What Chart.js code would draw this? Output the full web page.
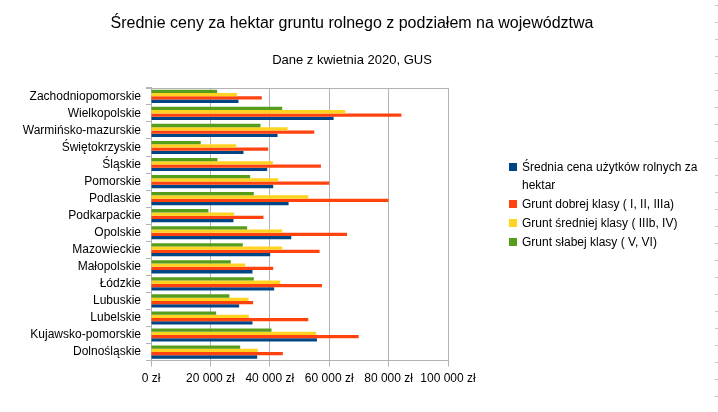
<!DOCTYPE html>
<html>
<head>
<meta charset="utf-8">
<script src="https://cdn.jsdelivr.net/npm/chart.js@4/dist/chart.umd.min.js"></script>
<style>
  html, body { margin: 0; padding: 0; background: #fff; }
  #wrap { position: relative; width: 718px; height: 412px; font-family: "Liberation Sans", Arial, sans-serif; }
  #box { position: absolute; left: 0; top: 0; width: 704px; height: 412px; }
  #legend { position: absolute; left: 509px; top: 158px; width: 200px; font-size: 12px; color: #000; }
  .item { display: flex; align-items: flex-start; line-height: 18px; margin-bottom: 1px; }
  .sw { width: 8px; height: 8px; margin-top: 5px; margin-right: 5px; flex: none; }
  .txt { width: 186px; }
  #edge { position: absolute; left: 715px; top: 0; width: 3px; height: 412px;
          background: repeating-linear-gradient(to bottom, transparent 0px, transparent 5px, #c8c8c8 5px, #c8c8c8 6px, transparent 6px, transparent 17px); }
</style>
</head>
<body>
<div id="wrap">
  <div id="box"><canvas id="c"></canvas></div>
  <div id="legend"></div>
  <div id="edge"></div>
</div>
<script>
const categories = ["Zachodniopomorskie","Wielkopolskie","Warmińsko-mazurskie","Świętokrzyskie","Śląskie","Pomorskie","Podlaskie","Podkarpackie","Opolskie","Mazowieckie","Małopolskie","Łódzkie","Lubuskie","Lubelskie","Kujawsko-pomorskie","Dolnośląskie"];
const sredniaCena = [29450,61490,42610,31140,39120,41150,46320,27770,47220,40140,34170,41490,29680,34170,55870,35750];
const gruntDobry = [37310,84320,54970,39460,57220,60030,79940,37880,65990,56770,41150,57560,34400,52950,69920,44390];
const gruntSredni = [29000,65430,45980,28670,41030,42830,52950,27990,44180,44180,31710,43510,32820,32930,55650,35960];
const gruntSlaby = [22260,44180,36870,16740,22370,33390,34620,19340,32380,30910,26860,34620,26410,21920,40580,30020];
const xTicks = [0,20000,40000,60000,80000,100000];
const seriesNames = ["Średnia cena użytków rolnych za hektar","Grunt dobrej klasy ( I, II, IIIa)","Grunt średniej klasy ( IIIb, IV)","Grunt słabej klasy ( V, VI)"];
const colors = ["#004586","#ff420e","#ffd320","#579d1c"];
const titleText = "Średnie ceny za hektar gruntu rolnego z podziałem na województwa";
const subtitleText = "Dane z kwietnia 2020, GUS";

const FONT = "'Liberation Sans', Arial, sans-serif";
const GRID = "#b3b3b3";

function fmt(v) {
  return String(v).replace(/\B(?=(\d{3})+(?!\d))/g, " ") + " zł";
}

const seriesData = [sredniaCena, gruntDobry, gruntSredni, gruntSlaby];
// draw order: green at top of each group, blue at bottom
const order = [3, 2, 1, 0];
const datasets = order.map(i => ({
  label: seriesNames[i],
  data: seriesData[i],
  backgroundColor: colors[i],
  borderWidth: 0,
  categoryPercentage: 0.77,
  barPercentage: 1.0
}));

const topLine = {
  id: 'topLine',
  beforeDatasetsDraw(chart) {
    const a = chart.chartArea, ctx = chart.ctx;
    ctx.save();
    ctx.strokeStyle = GRID;
    ctx.lineWidth = 1;
    ctx.beginPath();
    ctx.moveTo(a.left - 5, Math.round(a.top) + 0.5);
    ctx.lineTo(a.right, Math.round(a.top) + 0.5);
    ctx.stroke();
    ctx.restore();
  }
};

new Chart(document.getElementById('c'), {
  type: 'bar',
  data: { labels: categories, datasets },
  plugins: [topLine],
  options: {
    indexAxis: 'y',
    responsive: true,
    maintainAspectRatio: false,
    animation: false,
    layout: { padding: { left: 0, right: 0, top: 0, bottom: 21 } },
    plugins: {
      legend: { display: false },
      tooltip: { enabled: false },
      title: {
        display: true, text: titleText, color: '#000',
        font: { family: FONT, size: 16, weight: 'normal' },
        padding: { top: 14, bottom: 0 }
      },
      subtitle: {
        display: true, text: subtitleText, color: '#000',
        font: { family: FONT, size: 13, weight: 'normal' },
        padding: { top: 19, bottom: 20 }
      }
    },
    scales: {
      x: {
        type: 'linear', min: 0, max: 100000,
        afterBuildTicks(s) { s.ticks = xTicks.map(v => ({ value: v })); },
        ticks: { color: '#000', font: { family: FONT, size: 12 }, padding: 5, callback: v => fmt(v), maxRotation: 0 },
        grid: { color: GRID, tickColor: GRID, tickLength: 6, lineWidth: 1 },
        border: { color: GRID }
      },
      y: {
        type: 'category',
        offset: true,
        afterFit(s) { s.width = 151; },
        ticks: { color: '#000', font: { family: FONT, size: 12 }, padding: 5, autoSkip: false },
        grid: { offset: true, drawOnChartArea: false, color: GRID, tickColor: GRID, tickLength: 5 },
        border: { color: GRID }
      },
      yRight: {
        type: 'category', position: 'right', labels: [''],
        afterFit(s) { s.width = 256; },
        ticks: { display: false },
        grid: { display: false, drawTicks: false },
        border: { display: false }
      }
    }
  }
});

// HTML legend (allows wrapped text like the reference)
const leg = document.getElementById('legend');
seriesNames.forEach((n, i) => {
  const d = document.createElement('div');
  d.className = 'item';
  d.innerHTML = '<span class="sw" style="background:' + colors[i] + '"></span><span class="txt"></span>';
  d.querySelector('.txt').textContent = n;
  leg.appendChild(d);
});
</script>
</body>
</html>
